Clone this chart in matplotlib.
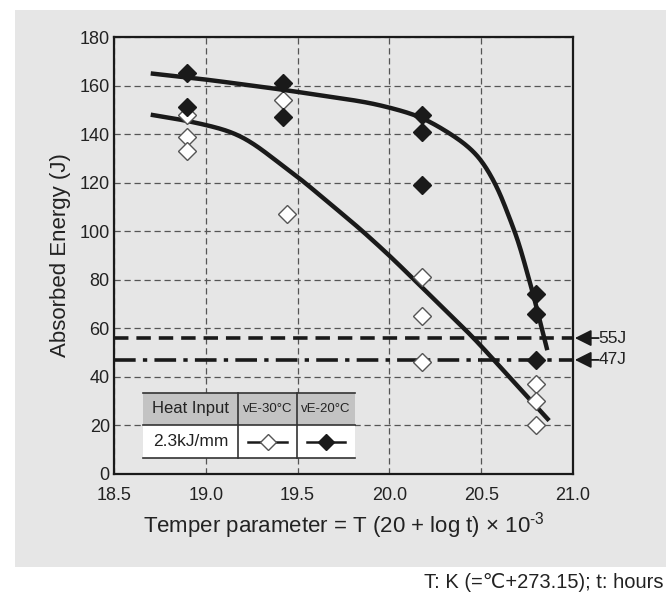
import matplotlib
matplotlib.use("Agg")
import matplotlib.pyplot as plt
from matplotlib.patches import Rectangle
from matplotlib.lines import Line2D
import numpy as np

plt.rcParams['font.family'] = ['Liberation Sans', 'DejaVu Sans']
plt.rcParams['mathtext.fontset'] = 'custom'
plt.rcParams['mathtext.rm'] = 'Liberation Sans'
plt.rcParams['mathtext.it'] = 'Liberation Sans:italic'

# data
x_open = [18.9, 18.9, 18.9, 19.42, 19.44, 20.18, 20.18, 20.18, 20.8, 20.8, 20.8]
y_open = [148, 139, 133, 154, 107, 81, 65, 46, 37, 30, 20]
x_fill = [18.9, 18.9, 19.42, 19.42, 20.18, 20.18, 20.18, 20.8, 20.8, 20.8]
y_fill = [165, 151, 161, 147, 148, 141, 119, 74, 66, 47]

curve_hi_x = [18.7, 19.0, 19.4, 19.89, 20.05, 20.18, 20.38, 20.49, 20.59, 20.7, 20.78, 20.86]
curve_hi_y = [165, 162.5, 158.5, 153, 150, 147, 138, 131, 118, 96.5, 75, 51]
curve_lo_x = [18.7, 18.9, 19.1, 19.2, 19.3, 19.4, 19.5, 19.84, 20.0, 20.46, 20.87]
curve_lo_y = [148, 145.5, 142, 139, 134, 128, 122.5, 101, 90, 56, 22]

threshold_y = [56, 47]
threshold_labels = ['55J', '47J']

xticks = [18.5, 19.0, 19.5, 20.0, 20.5, 21.0]
yticks = [0, 20, 40, 60, 80, 100, 120, 140, 160, 180]

W, H = 666, 596
fig = plt.figure(figsize=(W/100, H/100), dpi=100)
fig.patch.set_facecolor('white')
fig.patches.append(Rectangle((15/W, 1 - 567/H), (W-15)/W, (567-10)/H,
                             transform=fig.transFigure, facecolor='#e6e6e6',
                             edgecolor='none', zorder=-10))

ax = fig.add_axes([114/W, 1 - 474/H, (573-114)/W, (474-37)/H])
ax.set_zorder(1)
ax.set_facecolor('#e6e6e6')
ax.set_xlim(18.5, 21.0)
ax.set_ylim(0, 180)
ax.set_xticks(xticks)
ax.set_xticklabels([f'{v:.1f}' for v in xticks])
ax.set_yticks(yticks)
ax.tick_params(length=0, labelsize=13, colors='#222222')
ax.tick_params(axis='x', pad=9)
ax.tick_params(axis='y', pad=3)
for s in ax.spines.values():
    s.set_linewidth(1.6)
    s.set_color('#1a1a1a')
ax.grid(True, linestyle=(0, (5, 3)), color='#555555', linewidth=0.9)
ax.set_axisbelow(True)

def smooth(xs, ys, n=400):
    xs = np.asarray(xs, float); ys = np.asarray(ys, float)
    t = np.concatenate([[0], np.cumsum(np.hypot(np.diff(xs) * 75, np.diff(ys)))])
    tt = np.linspace(0, t[-1], n)
    px = np.interp(tt, t, xs); py = np.interp(tt, t, ys)
    k = 21
    ker = np.ones(k) / k
    for _ in range(2):
        px = np.convolve(np.pad(px, k//2, mode='reflect', reflect_type='odd'), ker, mode='valid')
        py = np.convolve(np.pad(py, k//2, mode='reflect', reflect_type='odd'), ker, mode='valid')
    return px, py

for cx, cy in [(curve_hi_x, curve_hi_y), (curve_lo_x, curve_lo_y)]:
    sx, sy = smooth(cx, cy)
    ax.plot(sx, sy, color='#1a1a1a', linewidth=3.2, solid_capstyle='butt', zorder=3)

ax.axhline(threshold_y[0], color='#1a1a1a', linewidth=2.6, linestyle=(0, (4, 2.2)), zorder=2.5)
ax.axhline(threshold_y[1], color='#1a1a1a', linewidth=2.6, linestyle=(0, (6, 2, 1.2, 2)), zorder=2.5)

ax.plot(x_open, y_open, linestyle='none', marker='D', markersize=9,
        markerfacecolor='white', markeredgecolor='#555555', markeredgewidth=1.0, zorder=4)
ax.plot(x_fill, y_fill, linestyle='none', marker='D', markersize=9,
        markerfacecolor='#1a1a1a', markeredgecolor='#1a1a1a', zorder=5)

# threshold arrows outside the axes
for val, lab in zip(threshold_y, threshold_labels):
    ax.annotate('', xy=(21.01, val), xytext=(21.14, val), xycoords='data',
                arrowprops=dict(arrowstyle='-|>,head_length=1.0,head_width=0.5',
                                color='#1a1a1a', lw=1.3, shrinkA=0, shrinkB=0),
                annotation_clip=False)
    ax.text(21.14, val, lab, va='center', ha='left', fontsize=12.5, color='#222222', clip_on=False)

ax.set_ylabel('Absorbed Energy (J)', fontsize=16, color='#222222', labelpad=6)
ax.set_xlabel('Temper parameter = T (20 + log t) × 10$^{\\mathrm{\u20103}}$', fontsize=16,
              color='#222222', labelpad=5)

# legend table (pixel coords, above the axes)
cols = [143, 238, 297, 355]
rows = [393, 425, 458]
def fx(px): return px / W
def fy(py): return 1 - py / H
tz = 20
fig.patches.append(Rectangle((fx(cols[0]), fy(rows[1])), fx(cols[3]) - fx(cols[0]),
                             fy(rows[0]) - fy(rows[1]), transform=fig.transFigure,
                             facecolor='#c3c3c3', edgecolor='none', zorder=tz))
fig.patches.append(Rectangle((fx(cols[0]), fy(rows[2])), fx(cols[3]) - fx(cols[0]),
                             fy(rows[1]) - fy(rows[2]), transform=fig.transFigure,
                             facecolor='white', edgecolor='none', zorder=tz))
for r in rows:
    fig.add_artist(Line2D([fx(cols[0]), fx(cols[3])], [fy(r), fy(r)], color='#333333', lw=1.2, zorder=tz+1))
for c in cols[1:3]:
    fig.add_artist(Line2D([fx(c), fx(c)], [fy(rows[0]), fy(rows[2])], color='#333333', lw=1.2, zorder=tz+1))
headers = ['Heat Input', 'vE-30°C', 'vE-20°C']
hsize = [12, 9.5, 9.5]
for i, h in enumerate(headers):
    fig.text(fx((cols[i] + cols[i+1]) / 2), fy((rows[0] + rows[1]) / 2), h, ha='center', va='center',
             fontsize=hsize[i], color='#222222', zorder=tz+2)
fig.text(fx((cols[0] + cols[1]) / 2), fy((rows[1] + rows[2]) / 2), '2.3kJ/mm', ha='center',
         va='center', fontsize=12.5, color='#222222', zorder=tz+2)
ym = fy((rows[1] + rows[2]) / 2)
for i, (fc, ec) in enumerate([('white', '#555555'), ('#1a1a1a', '#1a1a1a')]):
    c0, c1 = cols[i+1], cols[i+2]
    fig.add_artist(Line2D([fx(c0 + 10), fx(c1 - 10)], [ym, ym], color='#1a1a1a', lw=1.8, zorder=tz+2))
    fig.add_artist(Line2D([fx((c0 + c1) / 2)], [ym], marker='D', markersize=8, markerfacecolor=fc,
                          markeredgecolor=ec, markeredgewidth=1.0, linestyle='none', zorder=tz+3))

fig.text(fx(663), fy(582), 'T: K (=℃+273.15); t: hours', ha='right', va='center',
         fontsize=14.5, color='#222222', family=['Liberation Sans', 'DejaVu Sans'])

fig.savefig('out.png', dpi=100, facecolor='white')
